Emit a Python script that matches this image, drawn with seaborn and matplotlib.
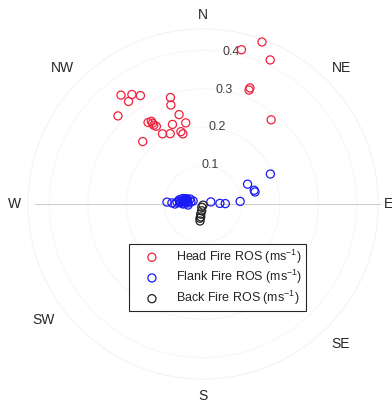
import numpy as np
import pandas as pd
import matplotlib
matplotlib.use("Agg")
import matplotlib.pyplot as plt
import seaborn as sns

# Fire spread direction (compass bearing, degrees) and rate of spread (m/s)
head_dir = [14, 20, 25, 22, 22, 39, 323, 327, 324, 330, 316, 343, 342, 345,
            348, 339, 326, 328, 328, 328, 329, 330, 335, 343, 344, 316]
head_ros = [0.414, 0.449, 0.414, 0.320, 0.326, 0.282, 0.355, 0.340, 0.330,
            0.326, 0.319, 0.290, 0.271, 0.241, 0.216, 0.222, 0.256, 0.254,
            0.248, 0.242, 0.236, 0.211, 0.202, 0.197, 0.190, 0.226]

flank_dir = [66, 66, 75, 77, 86, 89, 88, 75,
             273, 272, 270, 274, 280, 273, 278, 270, 286, 277, 284, 274,
             291, 280, 287, 266, 276, 281, 279, 283, 272, 277, 285, 288]
flank_ros = [0.192, 0.127, 0.138, 0.139, 0.097, 0.058, 0.044, 0.021,
             0.094, 0.081, 0.073, 0.068, 0.063, 0.060, 0.055, 0.052, 0.049,
             0.045, 0.043, 0.039, 0.036, 0.032, 0.027, 0.039, 0.058, 0.051,
             0.047, 0.041, 0.048, 0.062, 0.055, 0.044]

back_dir = [180, 201, 191, 193, 190, 192, 190]
back_ros = [0.003, 0.009, 0.018, 0.027, 0.034, 0.038, 0.045]

series_labels = ["Head Fire ROS (ms$^{-1}$)",
                 "Flank Fire ROS (ms$^{-1}$)",
                 "Back Fire ROS (ms$^{-1}$)"]
series_colors = ["#f0203c", "#1a1af5", "#222222"]

compass_labels = ["N", "NE", "E", "SE", "S", "SW", "W", "NW"]
compass_angles = [0, 45.6, 90, 135.4, 180, 234, 270, 314]
compass_radii = [0.492, 0.506, 0.482, 0.512, 0.500, 0.513, 0.492, 0.509]

ring_values = [0.1, 0.2, 0.3, 0.4]

sns.set_theme(style="white")
plt.rcParams["font.family"] = ["Liberation Sans", "DejaVu Sans"]
plt.rcParams["mathtext.fontset"] = "custom"
plt.rcParams["mathtext.rm"] = "Liberation Sans"
plt.rcParams["mathtext.it"] = "Liberation Sans:italic"

fig = plt.figure(figsize=(3.92, 4.04), dpi=100)
ax = fig.add_axes([0.0281, 0.0198, 0.9796, 0.9505], projection="polar")
ax.set_theta_zero_location("N")
ax.set_theta_direction(-1)
ax.set_facecolor("white")
ax.spines["polar"].set_visible(False)
ax.grid(False)

# faint range rings
full = np.linspace(0, 2 * np.pi, 361)
for rv in ring_values:
    ax.plot(full, np.full_like(full, rv), color="#f7f7f7", lw=0.8, zorder=0)
ax.plot(full, np.full_like(full, 0.456), color="#f3f3f3", lw=0.8, zorder=0)

# W-E reference line
ax.plot([1.5 * np.pi, 1.5 * np.pi, 0.5 * np.pi, 0.5 * np.pi],
        [0.4375, 0.0, 0.0, 0.461], color="#cfcfcf", lw=0.8, zorder=1)

frames = [
    pd.DataFrame({"theta": np.deg2rad(head_dir), "ros": head_ros}),
    pd.DataFrame({"theta": np.deg2rad(flank_dir), "ros": flank_ros}),
    pd.DataFrame({"theta": np.deg2rad(back_dir), "ros": back_ros}),
]
for df, lab, col in zip(frames, series_labels, series_colors):
    sns.scatterplot(data=df, x="theta", y="ros", ax=ax, marker="o", s=34,
                    facecolor="none", edgecolor=col, linewidth=0.9,
                    label=lab, zorder=3, legend=False)

ax.set_rlim(0, 0.5)
ax.set_xticks([])
ax.set_yticks([])
ax.set_xlabel("")
ax.set_ylabel("")

# radial tick labels
for rv in ring_values:
    ax.text(np.deg2rad(10.5), rv + 0.003, f"{rv:.1f}", ha="center", va="center",
            fontsize=9, color="#404040", zorder=2)

# compass labels
for lab, ang, rad in zip(compass_labels, compass_angles, compass_radii):
    ax.text(np.deg2rad(ang), rad, lab, ha="center", va="center",
            fontsize=10, color="#262626", clip_on=False)

leg = ax.legend(loc="center", bbox_to_anchor=(0.555, 0.314),
                bbox_transform=fig.transFigure, fontsize=9, frameon=True,
                fancybox=False, edgecolor="#262626", framealpha=1,
                scatterpoints=1, handlelength=3.0, handletextpad=0.4,
                borderpad=0.3, labelspacing=0.2, borderaxespad=0)
leg.get_frame().set_linewidth(0.8)

fig.savefig("out.png", dpi=100, facecolor="white")
